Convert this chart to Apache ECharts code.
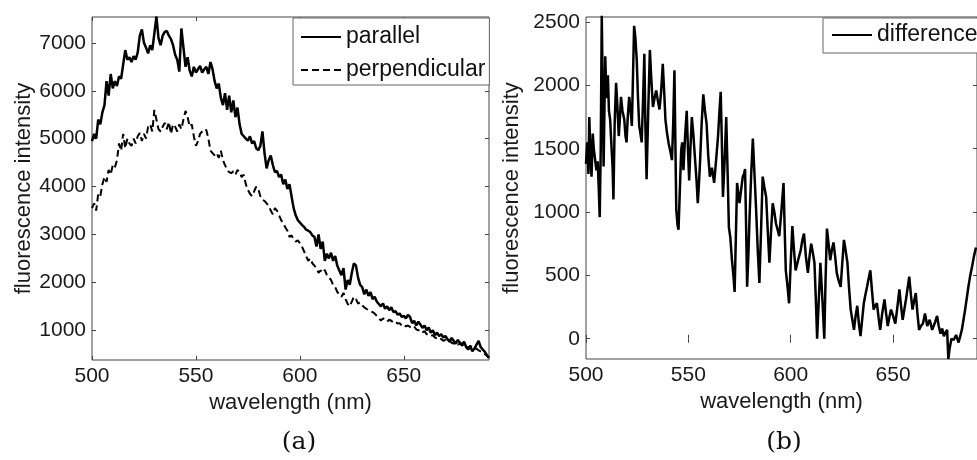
<!DOCTYPE html>
<html><head><meta charset="utf-8">
<script src="https://cdn.jsdelivr.net/npm/echarts@6/dist/echarts.min.js"></script>
<style>html,body{margin:0;padding:0;background:#fff}#c{width:977px;height:460px}</style>
</head><body><div id="c"></div><script>
const wavelengthA = [500,501,502,503,504,505,506,507,508,509,510,511,512,513,514,515,516,517,518,519,520,521,522,523,524,525,526,527,528,529,530,531,532,533,534,535,536,537,538,539,540,541,542,543,544,545,546,547,548,549,550,551,552,553,554,555,556,557,558,559,560,561,562,563,564,565,566,567,568,569,570,571,572,573,574,575,576,577,578,579,580,581,582,583,584,585,586,587,588,589,590,591,592,593,594,595,596,597,598,599,600,601,602,603,604,605,606,607,608,609,610,611,612,613,614,615,616,617,618,619,620,621,622,623,624,625,626,627,628,629,630,631,632,633,634,635,636,637,638,639,640,641,642,643,644,645,646,647,648,649,650,651,652,653,654,655,656,657,658,659,660,661,662,663,664,665,666,667,668,669,670,671,672,673,674,675,676,677,678,679,680,681,682,683,684,685,686,687,688,689,690,691];
const parallel = [4950,5100,5000,5400,5300,5550,5700,6200,5900,6350,6050,6200,6100,6300,6250,6550,6850,6650,6700,6600,6720,6650,6800,7150,7280,7000,6900,6780,6950,6850,7200,7550,7100,6950,7150,7230,7250,7150,7080,6950,6750,6650,6400,7300,6900,6500,6700,6420,6300,6500,6380,6450,6520,6380,6450,6500,6350,6600,6450,6200,6050,6150,5850,5700,5950,5600,5900,5550,5800,5450,5650,5300,5100,5050,5000,4960,5050,4900,4950,4800,4760,4850,5150,4700,4380,4550,4650,4450,4300,4330,4200,4250,4050,4150,3950,4050,3800,3550,3400,3300,3250,3200,3160,3100,3080,3050,2980,2950,2750,3000,2700,2850,2450,2600,2500,2620,2450,2550,2350,2250,2150,2300,1850,2050,1950,2200,2400,2350,2100,1950,1900,1750,1850,1720,1800,1650,1700,1600,1550,1500,1560,1450,1500,1420,1480,1380,1400,1330,1350,1280,1300,1250,1320,1280,1150,1200,1100,1180,1120,1050,1100,1000,1060,950,1000,900,950,880,920,850,880,820,760,840,780,720,800,740,700,760,650,600,660,560,620,700,780,650,600,550,480,420];
const perpendicular = [3550,3650,3500,3850,3800,4050,4200,4100,4350,4250,4450,4400,4550,4900,4750,5100,4800,5000,4900,4850,5000,4900,5050,5120,4950,5100,5000,5250,5300,5150,5600,5400,5200,5150,5250,5330,5200,5350,5100,5300,5250,5150,5300,5200,5400,5580,5450,5250,5300,5050,4850,4950,5100,5150,5200,5180,5000,4750,4700,4650,4700,4600,4750,4550,4450,4350,4300,4280,4320,4250,4350,4300,4200,4250,4050,3930,3850,3800,3900,4000,3950,3800,3720,3700,3650,3600,3500,3420,3550,3500,3400,3300,3230,3150,3080,2950,2980,2900,2850,2880,2820,2750,2650,2550,2450,2500,2400,2350,2300,2200,2250,2200,2260,2150,2100,2050,1950,1900,1800,1750,1700,1780,1650,1550,1500,1600,1700,1650,1560,1580,1520,1480,1450,1420,1400,1380,1350,1300,1250,1200,1250,1220,1180,1220,1200,1160,1180,1140,1150,1100,1120,1080,1100,1070,1050,1080,1020,1000,1010,960,980,920,900,880,900,850,830,800,820,780,800,760,790,740,720,740,700,720,680,700,660,640,680,620,600,620,580,560,540,500,470,440];
const wavelengthB = [500.0,500.6,501.2,501.6,502.2,502.7,503.3,503.8,504.4,505.1,505.7,506.2,506.7,507.2,507.7,508.2,508.6,509.0,509.4,510.0,510.7,511.2,511.8,512.5,513.0,513.4,514.0,514.7,515.3,516.0,516.6,517.1,517.8,518.7,519.3,519.8,520.4,521.1,521.8,522.4,523.0,523.5,524.1,524.8,525.4,526.0,526.6,527.2,527.9,528.5,529.0,529.6,530.4,531.2,531.9,532.7,533.5,534.3,535.1,535.9,536.7,537.5,538.2,538.8,539.6,540.4,541.2,542.0,542.6,543.2,543.7,544.1,544.7,545.2,545.9,546.5,547.0,547.6,548.4,549.2,549.8,550.4,551.0,551.7,552.5,553.3,554.0,554.6,555.1,555.7,556.5,557.3,558.1,558.9,559.7,560.5,561.5,562.6,563.5,564.5,565.2,565.8,566.3,566.9,567.7,568.5,569.2,569.8,570.5,571.3,572.0,572.6,573.2,573.8,574.4,575.0,575.8,576.6,577.2,577.7,578.2,578.7,579.3,579.9,580.7,581.5,582.3,583.1,583.9,584.7,585.5,586.3,587.1,588.0,588.8,589.6,590.4,591.2,592.0,592.8,593.6,594.4,595.4,596.5,597.0,597.6,598.4,599.2,600.0,600.8,601.6,602.4,603.6,604.9,605.7,606.5,607.4,608.4,609.2,610.0,610.8,611.6,612.3,612.9,613.7,614.5,615.5,616.4,617.0,617.7,618.5,619.3,620.1,620.9,621.7,622.5,623.4,624.4,625.2,626.0,626.8,627.7,628.5,629.3,630.1,630.9,631.7,632.5,633.3,634.1,634.9,635.7,636.5,637.3,638.1,638.9,639.7,640.5,641.3,642.1,642.9,643.7,644.7,645.8,646.6,647.4,648.2,649.0,650.0,651.1,652.1,653.1,653.9,654.7,655.5,656.3,657.1,657.9,658.7,659.5,660.3,661.1,661.9,662.7,663.6,664.6,665.6,666.7,667.9,669.1,670.3,671.5,672.3,673.2,674.0,674.8,675.6,676.4,677.0,677.6,678.5,679.6,680.8,682.0,682.8,683.6,684.4,685.2,686.0,686.8,687.7,688.6,689.5,690.5];
const difference = [1380,1550,1300,1750,1450,1280,1620,1500,1420,1330,1400,1200,960,1500,2560,1900,1360,1800,2230,1900,2080,1800,1730,1500,1350,1100,1700,2020,1850,1600,1750,1910,1800,1730,1600,1550,1750,1910,1800,1680,2100,2470,2380,2200,1900,1680,1620,1550,1900,2250,1700,1260,1800,2280,2050,1830,1900,1960,1880,1810,1950,2170,1950,1730,1620,1540,1480,1410,1700,2120,1500,1020,900,860,1200,1490,1550,1330,1600,1800,1500,1250,1500,1750,1600,1410,1250,1070,1200,1390,1700,1930,1800,1700,1450,1280,1350,1230,1400,1600,1800,1950,1600,1120,1400,1750,1300,880,800,620,500,370,800,1230,1150,1070,1180,1280,1300,1340,900,410,650,960,1300,1580,1300,1020,700,440,850,1280,1200,1120,850,600,850,1070,1000,910,860,810,1000,1230,900,540,420,280,600,890,700,540,620,700,780,830,650,520,650,750,680,600,300,0,300,600,300,0,450,870,750,620,700,760,650,520,460,410,600,780,700,600,400,230,150,70,180,260,120,20,150,280,350,410,480,540,380,230,260,280,170,70,200,310,200,100,170,230,180,120,250,390,260,150,230,310,400,490,350,230,300,360,200,70,100,120,200,100,150,70,120,180,100,40,80,20,50,70,-160,-80,0,-10,30,-30,20,70,150,230,320,410,500,570,650,720];
const xTickValues = [500,550,600,650];
const yTickValuesA = [1000,2000,3000,4000,5000,6000,7000];
const yTickValuesB = [0,500,1000,1500,2000,2500];

function pairs(xs, ys){ return xs.map((x,i)=>[x, ys[i]]); }

const AX = '#444';
const LBL = '#1a1a1a';
const FONT = 'Liberation Sans';
const plain = v => String(v);

function xAx(gi, pos, showLabels, name){
  return {type:'value', gridIndex:gi, position:pos, min:500, max:691,
    axisLine:{show:false}, splitLine:{show:false},
    axisTick:{show:true, inside:true, length:4, customValues:xTickValues, lineStyle:{color:AX}},
    axisLabel:{show:showLabels, customValues:xTickValues, formatter:plain, margin:6, fontSize:21, fontFamily:FONT, color:LBL},
    name:name||'', nameLocation:'middle', nameGap:31,
    nameTextStyle:{fontSize:22, fontFamily:FONT, color:LBL}};
}
function yAx(gi, pos, showLabels, min, max, ticks, name, gap){
  return {type:'value', gridIndex:gi, position:pos, min:min, max:max,
    axisLine:{show:false}, splitLine:{show:false},
    axisTick:{show:true, inside:true, length:4, customValues:ticks, lineStyle:{color:AX}},
    axisLabel:{show:showLabels, customValues:ticks, formatter:plain, margin:6, fontSize:21, fontFamily:FONT, color:LBL},
    name:name||'', nameLocation:'middle', nameGap:gap||0,
    nameTextStyle:{fontSize:22, fontFamily:FONT, color:LBL}};
}

const legendCommon = {orient:'vertical', itemWidth:40, itemHeight:14, borderColor:'#666', borderWidth:1,
  backgroundColor:'#fff', selectedMode:false, itemStyle:{opacity:0, borderWidth:0},
  textStyle:{fontSize:23, fontFamily:FONT, color:'#111', lineHeight:26}};

const chart = echarts.init(document.getElementById('c'), null, {renderer:'canvas'});
chart.setOption({
  animation:false,
  backgroundColor:'#fff',
  grid:[
    {left:92, top:17, width:397, height:343, show:true, borderColor:AX, borderWidth:1, containLabel:false},
    {left:586, top:17, width:396, height:342, show:true, borderColor:AX, borderWidth:1, containLabel:false}
  ],
  xAxis:[
    xAx(0,'bottom',true,'wavelength (nm)'),
    xAx(0,'top',false),
    xAx(1,'bottom',true,'wavelength (nm)'),
    xAx(1,'top',false)
  ],
  yAxis:[
    yAx(0,'left',true,380,7540,yTickValuesA,'fluorescence intensity',56),
    yAx(0,'right',false,380,7540,yTickValuesA),
    yAx(1,'left',true,-160,2540,yTickValuesB,'fluorescence intensity',63),
    yAx(1,'right',false,-160,2540,yTickValuesB)
  ],
  legend:[
    Object.assign({data:['parallel','perpendicular'], left:293, top:18, itemGap:7, padding:[6,4,2,7]}, legendCommon),
    Object.assign({data:['difference'], left:823, top:18, padding:[4,10,5,8]}, legendCommon)
  ],
  series:[
    {type:'line', name:'parallel', xAxisIndex:0, yAxisIndex:0, data:pairs(wavelengthA, parallel),
     symbol:'none', showSymbol:false, lineStyle:{color:'#000', width:2.5}, itemStyle:{color:'#000'}},
    {type:'line', name:'perpendicular', xAxisIndex:0, yAxisIndex:0, data:pairs(wavelengthA, perpendicular),
     symbol:'none', showSymbol:false, lineStyle:{color:'#000', width:2, type:[7,4]}, itemStyle:{color:'#000'}},
    {type:'line', name:'difference', xAxisIndex:2, yAxisIndex:2, data:pairs(wavelengthB, difference),
     symbol:'none', showSymbol:false, lineStyle:{color:'#000', width:2.5}, itemStyle:{color:'#000'}}
  ],
  graphic:[
    {type:'text', x:299, y:442, style:{text:'(a)', fontSize:25, fontFamily:'DejaVu Serif', fill:'#111', align:'center', verticalAlign:'middle'}},
    {type:'text', x:784, y:442, style:{text:'(b)', fontSize:25, fontFamily:'DejaVu Serif', fill:'#111', align:'center', verticalAlign:'middle'}}
  ]
});
</script></body></html>
